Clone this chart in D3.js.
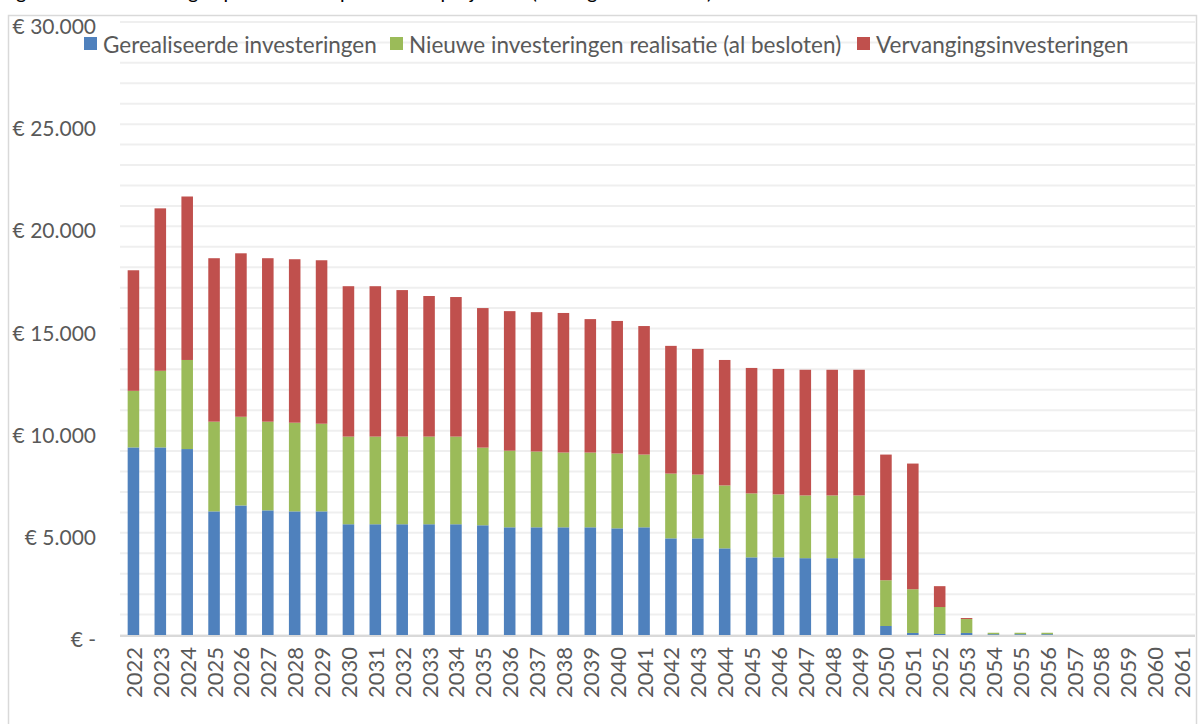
<!DOCTYPE html>
<html>
<head>
<meta charset="utf-8">
<script src="https://cdn.jsdelivr.net/npm/d3@7"></script>
<style>
  html, body { margin: 0; padding: 0; background: #ffffff; }
  svg { display: block; font-family: Lato, "Open Sans", sans-serif; }
</style>
</head>
<body>
<svg id="chart" width="1203" height="724"></svg>
<script>
const years = ["2022","2023","2024","2025","2026","2027","2028","2029","2030","2031",
  "2032","2033","2034","2035","2036","2037","2038","2039","2040","2041",
  "2042","2043","2044","2045","2046","2047","2048","2049","2050","2051",
  "2052","2053","2054","2055","2056","2057","2058","2059","2060","2061"];

const gerealiseerd = [9180,9180,9100,6050,6340,6100,6050,6050,5420,5420,
  5420,5420,5420,5370,5270,5270,5270,5270,5220,5270,
  4730,4730,4240,3800,3800,3760,3760,3760,440,100,
  50,100,40,40,40,0,0,0,0,0];

const nieuw = [2770,3750,4360,4390,4340,4340,4340,4290,4290,4290,
  4290,4290,4290,3800,3750,3710,3660,3660,3660,3560,
  3170,3120,3080,3130,3080,3070,3070,3070,2240,2140,
  1320,680,70,70,70,0,0,0,0,0];

const vervanging = [5900,7950,8000,8000,8000,8000,8000,8000,7360,7360,
  7170,6880,6830,6830,6830,6820,6830,6530,6490,6290,
  6250,6150,6140,6140,6140,6150,6150,6150,6150,6150,
  1020,50,0,0,0,0,0,0,0,0];

const seriesNames = ["Gerealiseerde investeringen","Nieuwe investeringen realisatie (al besloten)","Vervangingsinvesteringen"];
const seriesColors = ["#4f81bd","#9bbb59","#c0504d"];

const yTickValues = [0,5000,10000,15000,20000,25000,30000];
const yTickLabels = ["€ -","€ 5.000","€ 10.000","€ 15.000","€ 20.000","€ 25.000","€ 30.000"];
const gridValues = d3.range(0, 30001, 1000);

const titleText = "Figuur 4: Ontwikkeling kapitaallasten op basis van projecties (bedragen x € 1.000)";

const svg = d3.select("#chart");
const W = 1203, H = 724;
const plot = {left: 120, right: 1195, top: 22, bottom: 635};

// partial title (cut off at top, as in the source image)
svg.append("text").attr("x", 0).attr("y", -1)
  .attr("font-size", 20).attr("fill", "#000").text(titleText);

// chart area border
svg.append("rect").attr("x", 8.5).attr("y", 15.5)
  .attr("width", 1188).attr("height", H)
  .attr("fill", "#fff").attr("stroke", "#d9d9d9").attr("stroke-width", 1.5);

const x = d3.scaleBand().domain(years).range([plot.left, plot.right])
  .paddingInner(0.57).paddingOuter(0.285);
const y = d3.scaleLinear().domain([0, 30000]).range([plot.bottom, plot.top]);

// gridlines
svg.append("g").selectAll("line").data(gridValues).join("line")
  .attr("x1", plot.left).attr("x2", plot.right)
  .attr("y1", d => y(d)).attr("y2", d => y(d))
  .attr("stroke", "#efefef").attr("stroke-width", 2);

// stacked data
const rows = years.map((yr, i) => ({year: yr, a: gerealiseerd[i], b: nieuw[i], c: vervanging[i]}));
const stack = d3.stack().keys(["a","b","c"])(rows);

svg.append("g").selectAll("g").data(stack).join("g")
  .attr("fill", (d, i) => seriesColors[i])
  .selectAll("rect").data(d => d).join("rect")
  .attr("x", d => x(d.data.year))
  .attr("width", x.bandwidth())
  .attr("y", d => y(d[1]))
  .attr("height", d => Math.max(0, y(d[0]) - y(d[1])));

// baseline axis line
svg.append("line").attr("x1", plot.left).attr("x2", plot.right)
  .attr("y1", plot.bottom + 1).attr("y2", plot.bottom + 1)
  .attr("stroke", "#d9d9d9").attr("stroke-width", 2);

// y axis
const yAxis = svg.append("g").attr("transform", "translate(96,0)")
  .call(d3.axisLeft(y).tickValues(yTickValues)
    .tickFormat((d, i) => yTickLabels[i]).tickSize(0).tickPadding(0));
yAxis.select(".domain").remove();
yAxis.selectAll("text")
  .attr("font-family", "Lato, 'Open Sans', sans-serif")
  .attr("font-size", 21).attr("fill", "#595959").attr("dy", "0.55em");

// x axis
const xAxis = svg.append("g").attr("transform", `translate(0,${plot.bottom})`)
  .call(d3.axisBottom(x).tickSize(0).tickPadding(0));
xAxis.select(".domain").remove();
xAxis.selectAll("text")
  .attr("font-family", "Lato, 'Open Sans', sans-serif")
  .attr("font-size", 22).attr("fill", "#595959")
  .attr("text-anchor", "end")
  .attr("dy", null)
  .attr("transform", "translate(0,12) rotate(-90)")
  .attr("x", 0).attr("y", 0)
  .attr("dominant-baseline", "central");

// legend
const legendX = [84, 390, 857];
const lg = svg.append("g");
seriesNames.forEach((name, i) => {
  lg.append("rect").attr("x", legendX[i]).attr("y", 37)
    .attr("width", 13).attr("height", 13).attr("fill", seriesColors[i]);
  lg.append("text").attr("x", legendX[i] + 19).attr("y", 44)
    .attr("dominant-baseline", "central")
    .attr("font-size", 22.5).attr("fill", "#595959").text(name);
});
</script>
</body>
</html>
